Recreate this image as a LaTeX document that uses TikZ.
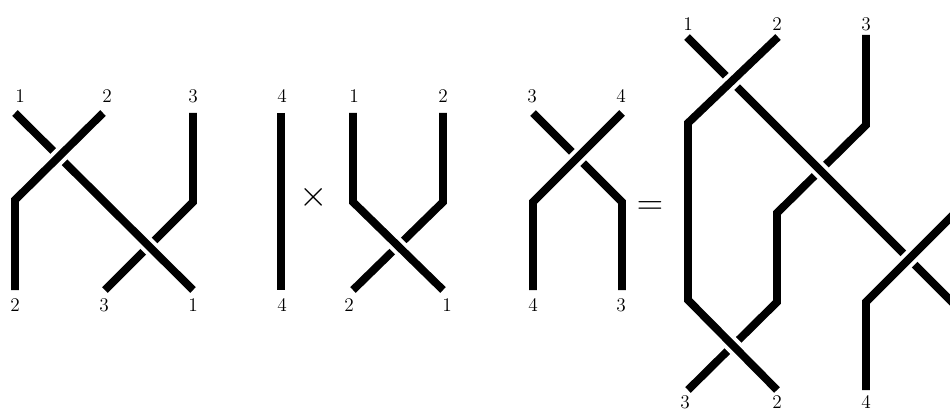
\documentclass[tikz,border=0pt]{standalone}
\usepackage{amsmath}
\usepackage{amssymb}
\usepackage{tikz}
\tikzset{
  strand/.style={line width=4.5pt},
  over/.style={strand, preaction={draw=white, line width=9pt}},
  lbl/.style={font=\fontsize{11}{13}\selectfont, inner sep=0pt},
  op/.style={font=\fontsize{22}{22}\selectfont, inner sep=0pt}
}
\begin{document}
\begin{tikzpicture}[x=0.02cm, y=-0.02cm]
		\useasboundingbox (0,0) rectangle (950,412);
		\clip (0,0) rectangle (950,412);
		% first braid
		\draw[strand] (193,113) -- (193,202) -- (105,290);
		\draw[over] (15,113) -- (193,290);
		\draw[over] (103,113) -- (15,200) -- (15,290);
		\node[lbl] (a1) at (20,96) {1};
		\node[lbl] (a2) at (107,96) {2};
		\node[lbl] (a3) at (193,96) {3};
		\node[lbl] (a1b) at (15,305) {2};
		\node[lbl] (a2b) at (104,305) {3};
		\node[lbl] (a3b) at (193,305) {1};
		% second braid
		\draw[strand] (281,113) -- (281,290);
		\node[lbl] (b1) at (282,96) {4};
		\node[lbl] (b1b) at (282,305) {4};
		\node[op] (times) at (314,197) {$\times$};
		\draw[strand] (443,113) -- (443,202) -- (353,290);
		\draw[over] (353,113) -- (353,202) -- (443,290);
		\node[lbl] (c1) at (354,96) {1};
		\node[lbl] (c2) at (443,96) {2};
		\node[lbl] (c1b) at (349,305) {2};
		\node[lbl] (c2b) at (447,305) {1};
		% third braid
		\draw[strand] (533,113) -- (622,202) -- (622,290);
		\draw[over] (622,113) -- (533,202) -- (533,290);
		\node[lbl] (d1) at (532,96) {3};
		\node[lbl] (d2) at (621,96) {4};
		\node[lbl] (d1b) at (533,305) {4};
		\node[lbl] (d2b) at (621,305) {3};
		\node[op] (eq) at (650,208) {$=$};
		% product
		\draw[strand] (866,35) -- (866,125) -- (777,213) -- (777,302) -- (688,390);
		\draw[over] (687,37) -- (955,305) -- (955,390);
		\draw[over] (778,37) -- (688,123) -- (688,300) -- (777,390);
		\draw[over] (866,390) -- (866,302) -- (960,208);
		\node[lbl] (e1) at (688,24) {1};
		\node[lbl] (e2) at (777,24) {2};
		\node[lbl] (e3) at (866,24) {3};
		\node[lbl] (e1b) at (685,402) {3};
		\node[lbl] (e2b) at (777,402) {2};
		\node[lbl] (e3b) at (866,402) {4};
	\end{tikzpicture}
\end{document}
